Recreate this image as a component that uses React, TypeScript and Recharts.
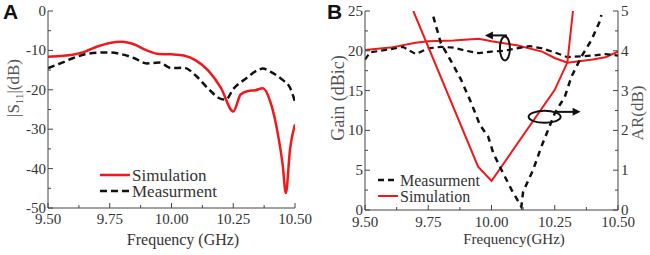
import React from 'react'
import {
  ComposedChart,
  Line,
  XAxis,
  YAxis,
  ReferenceDot,
  Label,
} from 'recharts'

// Panel A: |S11| (dB) vs frequency
const s11Simulation = [
  { f: 9.5, v: -11.6 }, { f: 9.55, v: -11.4 }, { f: 9.6, v: -11.1 }, { f: 9.65, v: -10.3 },
  { f: 9.7, v: -9.0 }, { f: 9.75, v: -8.1 }, { f: 9.8, v: -7.8 }, { f: 9.85, v: -8.5 },
  { f: 9.9, v: -10.0 }, { f: 9.95, v: -10.9 }, { f: 10.0, v: -11.0 }, { f: 10.05, v: -11.3 },
  { f: 10.1, v: -12.6 }, { f: 10.15, v: -15.2 }, { f: 10.2, v: -19.5 }, { f: 10.25, v: -25.5 },
  { f: 10.28, v: -21.2 }, { f: 10.31, v: -20.3 }, { f: 10.34, v: -20.1 }, { f: 10.37, v: -19.6 },
  { f: 10.4, v: -23.0 }, { f: 10.43, v: -31.0 }, { f: 10.45, v: -39.0 }, { f: 10.463, v: -46.2 },
  { f: 10.48, v: -35.0 }, { f: 10.5, v: -28.8 },
]
const s11Measurement = [
  { f: 9.5, v: -14.5 }, { f: 9.55, v: -13.3 }, { f: 9.6, v: -12.0 }, { f: 9.65, v: -11.0 },
  { f: 9.7, v: -10.6 }, { f: 9.75, v: -10.5 }, { f: 9.8, v: -11.0 }, { f: 9.85, v: -12.0 },
  { f: 9.9, v: -13.3 }, { f: 9.95, v: -13.1 }, { f: 10.0, v: -14.5 }, { f: 10.05, v: -14.4 },
  { f: 10.1, v: -16.5 }, { f: 10.15, v: -19.8 }, { f: 10.2, v: -22.3 }, { f: 10.22, v: -22.5 },
  { f: 10.25, v: -19.8 }, { f: 10.3, v: -17.2 }, { f: 10.35, v: -15.0 }, { f: 10.37, v: -14.6 },
  { f: 10.4, v: -15.4 }, { f: 10.45, v: -17.5 }, { f: 10.48, v: -19.5 }, { f: 10.5, v: -23.0 },
]

// Panel B: gain (dBic) and axial ratio (dB)
const gainSimulation = [
  { f: 9.5, v: 20.1 }, { f: 9.6, v: 20.4 }, { f: 9.7, v: 21.0 }, { f: 9.75, v: 21.2 },
  { f: 9.85, v: 21.3 }, { f: 9.95, v: 21.5 }, { f: 10.0, v: 21.2 }, { f: 10.1, v: 20.7 },
  { f: 10.2, v: 19.9 }, { f: 10.25, v: 19.1 }, { f: 10.3, v: 18.5 }, { f: 10.4, v: 18.9 },
  { f: 10.45, v: 19.2 }, { f: 10.5, v: 19.9 },
]
const gainMeasurement = [
  { f: 9.5, v: 18.9 }, { f: 9.52, v: 19.8 }, { f: 9.6, v: 20.2 }, { f: 9.65, v: 20.5 },
  { f: 9.7, v: 19.6 }, { f: 9.75, v: 20.3 }, { f: 9.8, v: 20.5 }, { f: 9.85, v: 20.4 },
  { f: 9.9, v: 20.0 }, { f: 9.95, v: 19.7 }, { f: 10.0, v: 19.9 }, { f: 10.05, v: 20.0 },
  { f: 10.1, v: 20.3 }, { f: 10.15, v: 20.6 }, { f: 10.2, v: 20.3 }, { f: 10.25, v: 19.8 },
  { f: 10.3, v: 19.2 }, { f: 10.35, v: 19.3 }, { f: 10.4, v: 19.4 }, { f: 10.45, v: 19.6 },
  { f: 10.5, v: 19.4 },
]
const arSimulation = [
  { f: 9.691, v: 5.0 }, { f: 9.947, v: 1.09 }, { f: 10.0, v: 0.73 }, { f: 10.25, v: 3.02 },
  { f: 10.3, v: 3.71 }, { f: 10.322, v: 5.0 },
]
const arMeasurement = [
  { f: 9.77, v: 4.86 }, { f: 9.8, v: 4.19 }, { f: 9.849, v: 3.64 }, { f: 9.88, v: 3.27 },
  { f: 9.92, v: 2.69 }, { f: 9.954, v: 2.14 }, { f: 9.987, v: 1.84 }, { f: 10.007, v: 1.43 },
  { f: 10.04, v: 1.0 }, { f: 10.08, v: 0.5 }, { f: 10.118, v: 0.08 }, { f: 10.125, v: 0.46 },
  { f: 10.164, v: 1.0 }, { f: 10.197, v: 1.59 }, { f: 10.25, v: 2.43 }, { f: 10.29, v: 2.85 },
  { f: 10.316, v: 3.35 }, { f: 10.355, v: 3.85 }, { f: 10.395, v: 4.27 }, { f: 10.43, v: 4.77 },
  { f: 10.434, v: 4.9 },
]

const freqTicks = [9.5, 9.75, 10.0, 10.25, 10.5]
const s11Ticks = [0, -10, -20, -30, -40, -50]
const gainTicks = [0, 5, 10, 15, 20, 25]
const arTicks = [0, 1, 2, 3, 4, 5]

const RED = '#f01818'
const BLACK = '#111'
const AXIS = '#444'
const TEXT = '#333'
const SERIF = "'Liberation Serif', 'Times New Roman', serif"
const serif = { fontFamily: SERIF }

// add a minor tick between each pair of majors
const withMinor = (major: number[]) => {
  const s = [...major].sort((a, b) => a - b)
  const out: number[] = []
  s.forEach((m, i) => {
    out.push(m)
    if (i < s.length - 1) out.push((m + s[i + 1]) / 2)
  })
  return out
}
const isMajor = (major: number[], v: number) => major.some(m => Math.abs(m - v) < 1e-6)

const xTick = (major: number[], dy: number, show = true, up = true) => (props: any) => {
  const { x, y, payload } = props
  const big = isMajor(major, payload.value)
  const len = big ? 5 : 3
  return (
    <g>
      <line x1={x} x2={x} y1={y} y2={up ? y - len : y + len} stroke={AXIS} strokeWidth={1} />
      {show && big && (
        <text x={x} y={y + dy} textAnchor="middle" fontSize={15} style={serif} fill={TEXT}>
          {payload.value.toFixed(2)}
        </text>
      )}
    </g>
  )
}

const yTick = (major: number[], side: 'left' | 'right', show = true) => (props: any) => {
  const { x, y, payload } = props
  const big = isMajor(major, payload.value)
  const len = big ? 5 : 3
  const inward = side === 'left' ? len : -len
  return (
    <g>
      <line x1={x} x2={x + inward} y1={y} y2={y} stroke={AXIS} strokeWidth={1} />
      {show && big && (
        <text
          x={side === 'left' ? x - 2 : x + 3}
          y={y + 5}
          textAnchor={side === 'left' ? 'end' : 'start'}
          fontSize={15}
          style={serif}
          fill={TEXT}
        >
          {payload.value}
        </text>
      )}
    </g>
  )
}

const LegendA = () => (
  <svg width={130} height={36} style={{ display: 'block' }}>
    <line x1={2} x2={32} y1={8} y2={8} stroke={RED} strokeWidth={2.5} />
    <text x={34} y={14} fontSize={17} style={serif} fill={TEXT}>Simulation</text>
    <line x1={2} x2={32} y1={24} y2={24} stroke={BLACK} strokeWidth={2.5} strokeDasharray="7 4" />
    <text x={34} y={30} fontSize={17} style={serif} fill={TEXT}>Measurment</text>
  </svg>
)

const LegendB = () => (
  <svg width={110} height={36} style={{ display: 'block' }}>
    <line x1={2} x2={22} y1={8} y2={8} stroke={BLACK} strokeWidth={2.5} strokeDasharray="6 4" />
    <text x={24} y={14} fontSize={16} style={serif} fill={TEXT}>Measurment</text>
    <line x1={2} x2={22} y1={24} y2={24} stroke={RED} strokeWidth={2} />
    <text x={24} y={30} fontSize={16} style={serif} fill={TEXT}>Simulation</text>
  </svg>
)

const GainMarker = (props: any) => {
  const { cx, cy } = props
  return (
    <g>
      <ellipse cx={cx} cy={cy} rx={5} ry={12} fill="none" stroke={BLACK} strokeWidth={2} />
      <line x1={cx + 2} x2={cx - 15} y1={cy - 13} y2={cy - 13} stroke={BLACK} strokeWidth={2} />
      <path d={`M${cx - 20},${cy - 13} L${cx - 12},${cy - 17} L${cx - 12},${cy - 9} Z`} fill={BLACK} />
    </g>
  )
}

const ArMarker = (props: any) => {
  const { cx, cy } = props
  return (
    <g>
      <ellipse cx={cx} cy={cy} rx={16} ry={6} fill="none" stroke={BLACK} strokeWidth={2} />
      <line x1={cx + 12} x2={cx + 31} y1={cy - 5} y2={cy - 5} stroke={BLACK} strokeWidth={2} />
      <path d={`M${cx + 36},${cy - 5} L${cx + 28},${cy - 9} L${cx + 28},${cy - 1} Z`} fill={BLACK} />
    </g>
  )
}

const PanelTag = ({ text, left }: { text: string; left: number }) => (
  <div
    style={{
      position: 'absolute',
      left,
      top: 0,
      fontFamily: "'Liberation Sans', Arial, sans-serif",
      fontWeight: 'bold',
      fontSize: 21,
      lineHeight: '24px',
      color: '#111',
    }}
  >
    {text}
  </div>
)

export default function App() {
  const fTicks = withMinor(freqTicks)
  return (
    <div style={{ position: 'absolute', left: 0, top: 0, width: 650, height: 255, background: '#fff', overflow: 'hidden', fontFamily: SERIF }}>
      <div style={{ position: 'absolute', left: 0, top: 0 }}>
        <ComposedChart width={325} height={255} margin={{ top: 11, right: 30, bottom: 17, left: 8 }}>
          <XAxis
            xAxisId="b" dataKey="f" type="number" domain={[9.5, 10.5]} ticks={fTicks} interval={0}
            height={30} tickSize={0} tickMargin={0} tickLine={false} axisLine={{ stroke: AXIS }}
            tick={xTick(freqTicks, 16)} allowDataOverflow
          >
            <Label content={() => (
              <text x={183} y={245} textAnchor="middle" fontSize={16} style={serif} fill={TEXT}>Frequency (GHz)</text>
            )} />
          </XAxis>
          <XAxis
            xAxisId="t" orientation="top" dataKey="f" type="number" domain={[9.5, 10.5]} ticks={fTicks} interval={0}
            height={0} tickSize={0} tickMargin={0} tickLine={false} axisLine={{ stroke: AXIS }}
            tick={xTick(freqTicks, 0, false, false)}
          />
          <YAxis
            yAxisId="l" type="number" domain={[-50, 0]} ticks={withMinor(s11Ticks)} interval={0}
            width={40} tickSize={0} tickMargin={0} tickLine={false} axisLine={{ stroke: AXIS }}
            tick={yTick(s11Ticks, 'left')}
          >
            <Label content={() => (
              <text transform="translate(19,88) rotate(-90)" textAnchor="middle" fontSize={17} style={serif} fill="#555">
                |S<tspan fontSize={11} dy={4}>11</tspan><tspan dy={-4}>|(dB)</tspan>
              </text>
            )} />
          </YAxis>
          <YAxis
            yAxisId="r" orientation="right" type="number" domain={[-50, 0]} ticks={withMinor(s11Ticks)} interval={0}
            width={0} tickSize={0} tickMargin={0} tickLine={false} axisLine={{ stroke: AXIS }}
            tick={yTick(s11Ticks, 'right', false)}
          />
          <Line
            xAxisId="b" yAxisId="l" data={s11Simulation} dataKey="v" name="Simulation"
            type="monotone" stroke={RED} strokeWidth={2.5} dot={false} isAnimationActive={false}
          />
          <Line
            xAxisId="b" yAxisId="l" data={s11Measurement} dataKey="v" name="Measurment"
            type="monotone" stroke={BLACK} strokeWidth={2.5} strokeDasharray="7 4" dot={false} isAnimationActive={false}
          />
        </ComposedChart>
      </div>

      <div style={{ position: 'absolute', left: 325, top: 0 }}>
        <ComposedChart width={325} height={255} margin={{ top: 11, right: 12, bottom: 15, left: 10 }}>
          <XAxis
            xAxisId="b" dataKey="f" type="number" domain={[9.5, 10.5]} ticks={fTicks} interval={0}
            height={30} tickSize={0} tickMargin={0} tickLine={false} axisLine={{ stroke: AXIS }}
            tick={xTick(freqTicks, 17)} allowDataOverflow
          >
            <Label content={() => (
              <text x={189} y={244} textAnchor="middle" fontSize={15} style={serif} fill={TEXT}>Frequency(GHz)</text>
            )} />
          </XAxis>
          <XAxis
            xAxisId="t" orientation="top" dataKey="f" type="number" domain={[9.5, 10.5]} ticks={fTicks} interval={0}
            height={0} tickSize={0} tickMargin={0} tickLine={false} axisLine={{ stroke: AXIS }}
            tick={xTick(freqTicks, 0, false, false)}
          />
          <YAxis
            yAxisId="gain" type="number" domain={[0, 25]} ticks={withMinor(gainTicks)} interval={0}
            width={30} tickSize={0} tickMargin={0} tickLine={false} axisLine={{ stroke: AXIS }}
            tick={yTick(gainTicks, 'left')} allowDataOverflow
          >
            <Label content={() => (
              <text transform="translate(19,98) rotate(-90)" textAnchor="middle" fontSize={18} style={serif} fill="#555">Gain (dBic)</text>
            )} />
          </YAxis>
          <YAxis
            yAxisId="ar" orientation="right" type="number" domain={[0, 5]} ticks={withMinor(arTicks)} interval={0}
            width={20} tickSize={0} tickMargin={0} tickLine={false} axisLine={{ stroke: AXIS }}
            tick={yTick(arTicks, 'right')} allowDataOverflow
          >
            <Label content={() => (
              <text transform="translate(318,113) rotate(-90)" textAnchor="middle" fontSize={17} style={serif} fill="#555">AR(dB)</text>
            )} />
          </YAxis>
          <Line
            xAxisId="b" yAxisId="gain" data={gainSimulation} dataKey="v" name="Simulation"
            type="linear" stroke={RED} strokeWidth={2} dot={false} isAnimationActive={false}
          />
          <Line
            xAxisId="b" yAxisId="gain" data={gainMeasurement} dataKey="v" name="Measurment"
            type="linear" stroke={BLACK} strokeWidth={2.2} strokeDasharray="6 4" dot={false} isAnimationActive={false}
          />
          <Line
            xAxisId="b" yAxisId="ar" data={arSimulation} dataKey="v" name="AR Simulation"
            type="linear" stroke={RED} strokeWidth={2} dot={false} isAnimationActive={false}
          />
          <Line
            xAxisId="b" yAxisId="ar" data={arMeasurement} dataKey="v" name="AR Measurment"
            type="linear" stroke={BLACK} strokeWidth={2.5} strokeDasharray="6 5" dot={false} isAnimationActive={false}
          />
          <ReferenceDot xAxisId="b" yAxisId="gain" x={10.053} y={20.3} shape={<GainMarker />} />
          <ReferenceDot xAxisId="b" yAxisId="ar" x={10.21} y={2.34} shape={<ArMarker />} />
        </ComposedChart>
      </div>

      <div style={{ position: 'absolute', left: 98, top: 167 }}><LegendA /></div>
      <div style={{ position: 'absolute', left: 376, top: 172 }}><LegendB /></div>
      <PanelTag text="A" left={3} />
      <PanelTag text="B" left={327} />
    </div>
  )
}
